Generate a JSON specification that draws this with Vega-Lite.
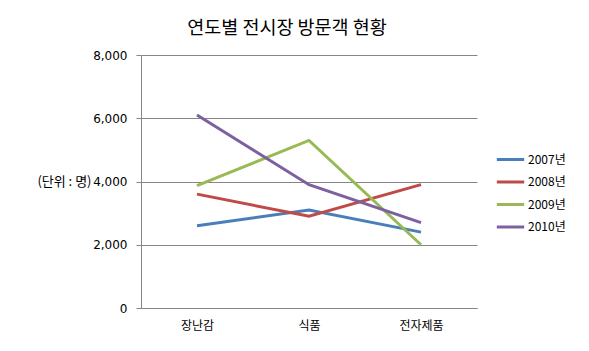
{
  "$schema": "https://vega.github.io/schema/vega-lite/v6.json",
  "autosize": "none",
  "width": 336,
  "height": 253,
  "padding": {"left": 141, "top": 55, "right": 112, "bottom": 43},
  "background": "white",
  "title": {
    "text": "연도별 전시장 방문객 현황",
    "font": "Noto Sans CJK KR",
    "fontSize": 18.5,
    "fontWeight": "normal",
    "color": "black",
    "anchor": "middle",
    "dx": -22,
    "offset": 12
  },
  "data": {
    "values": [
      {"category": "장난감", "year": "2007년", "value": 2600},
      {"category": "식품", "year": "2007년", "value": 3100},
      {"category": "전자제품", "year": "2007년", "value": 2400},
      {"category": "장난감", "year": "2008년", "value": 3600},
      {"category": "식품", "year": "2008년", "value": 2900},
      {"category": "전자제품", "year": "2008년", "value": 3900},
      {"category": "장난감", "year": "2009년", "value": 3870},
      {"category": "식품", "year": "2009년", "value": 5300},
      {"category": "전자제품", "year": "2009년", "value": 2000},
      {"category": "장난감", "year": "2010년", "value": 6100},
      {"category": "식품", "year": "2010년", "value": 3900},
      {"category": "전자제품", "year": "2010년", "value": 2700}
    ]
  },
  "mark": {"type": "line", "strokeWidth": 3},
  "encoding": {
    "x": {
      "field": "category",
      "type": "nominal",
      "sort": ["장난감", "식품", "전자제품"],
      "scale": {"type": "point", "padding": 0.5},
      "axis": {
        "title": null,
        "labelAngle": 0,
        "labelFont": "Noto Sans CJK KR",
        "labelFontSize": 12,
        "labelColor": "black",
        "labelPadding": 12,
        "ticks": false,
        "domainColor": "#868686",
        "grid": false
      }
    },
    "y": {
      "field": "value",
      "type": "quantitative",
      "scale": {"domain": [0, 8000]},
      "axis": {
        "values": [0, 2000, 4000, 6000, 8000],
        "format": ",.0f",
        "title": "(단위 : 명)",
        "titleAngle": 0,
        "titleX": -50,
        "titleY": 126,
        "titleAlign": "right",
        "titleBaseline": "middle",
        "titleFont": "Noto Sans CJK KR",
        "titleFontSize": 13,
        "titleFontWeight": "normal",
        "titleColor": "black",
        "labelFont": "DejaVu Sans",
        "labelFontSize": 12,
        "labelColor": "black",
        "labelPadding": 9,
        "tickSize": 5,
        "tickColor": "#868686",
        "domainColor": "#868686",
        "gridColor": "#868686",
        "gridWidth": 1
      }
    },
    "color": {
      "field": "year",
      "type": "nominal",
      "scale": {
        "domain": ["2007년", "2008년", "2009년", "2010년"],
        "range": ["#4a7ebb", "#be4b48", "#98b954", "#7d60a0"]
      },
      "legend": {
        "title": null,
        "orient": "none",
        "legendX": 354,
        "legendY": 89,
        "padding": 0,
        "symbolType": "stroke",
        "symbolSize": 750,
        "symbolStrokeWidth": 3,
        "rowPadding": 0.5,
        "labelFont": "Noto Sans CJK KR",
        "labelFontSize": 12,
        "labelColor": "black",
        "labelOffset": 2
      }
    }
  },
  "config": {
    "view": {"stroke": null}
  }
}
